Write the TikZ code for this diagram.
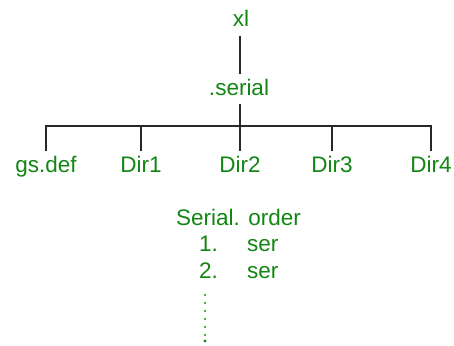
\documentclass[tikz,border=0pt]{standalone}
\usepackage{fontspec}
\setmainfont{Liberation Sans}
\definecolor{txtgreen}{RGB}{18,134,18}
\definecolor{linegray}{RGB}{40,40,40}
\begin{document}
\begin{tikzpicture}[x=1pt,y=-1pt,
  lbl/.style={text=txtgreen, font=\fontsize{22.5}{26}\selectfont,
    text height=16pt, text depth=4pt, inner xsep=1pt, inner ysep=4.5pt},
  link/.style={draw=linegray, line width=1.2pt},
  dotmark/.style={fill=txtgreen, draw=none}]
  \useasboundingbox (0,0) rectangle (454,345);

  % root and first child
  \node[lbl, anchor=base] (xl) at (241,27) {xl};
  \node[lbl, anchor=base] (serial) at (239,95) {.serial};

  % directory level
  \node[lbl, anchor=base] (gsdef) at (46,172) {gs.def};
  \node[lbl, anchor=base] (dir1) at (141,172) {Dir1};
  \node[lbl, anchor=base] (dir2) at (240,172) {Dir2};
  \node[lbl, anchor=base] (dir3) at (332,172) {Dir3};
  \node[lbl, anchor=base] (dir4) at (431,172) {Dir4};
  \coordinate (bar) at (240,126);

  % connectors
  \draw[link] (xl.south -| bar) -- (serial.north -| bar);
  \draw[link] (serial.south -| bar) -- (dir2.north);
  \draw[link] (gsdef.north) -- (gsdef.north |- bar) -- (dir4.north |- bar) -- (dir4.north);
  \draw[link] (dir1.north) -- (dir1.north |- bar);
  \draw[link] (dir3.north) -- (dir3.north |- bar);

  % serial order list
  \node[lbl, anchor=base] (order) at (238.5,225) {Serial. order};
  \node[lbl, anchor=base east] (num1) at (219,251) {1.};
  \node[lbl, anchor=base west] (ser1) at (246,251) {ser};
  \node[lbl, anchor=base east] (num2) at (219,278) {2.};
  \node[lbl, anchor=base west] (ser2) at (246,278) {ser};

  % vertical ellipsis
  \foreach \yy in {295,303,311,319,327,335}
    \fill[dotmark] (205,\yy) circle (1.1pt);
  \fill[dotmark] (205,341) circle (1.6pt);
\end{tikzpicture}
\end{document}
